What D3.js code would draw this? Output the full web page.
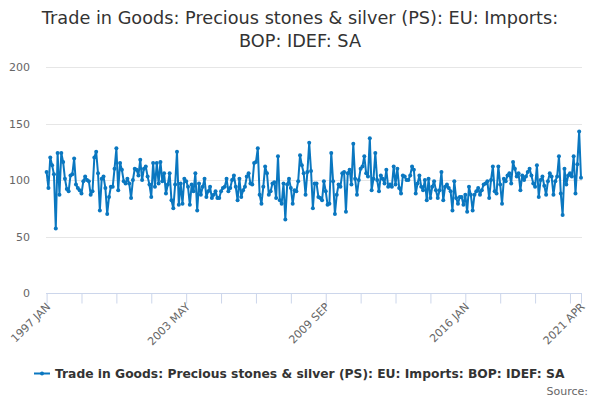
<!DOCTYPE html>
<html>
<head>
<meta charset="utf-8">
<script src="https://cdn.jsdelivr.net/npm/d3@7"></script>
<style>
    body { margin: 0; background: #fff; }
    #chart { width: 600px; height: 400px; }
</style>
</head>
<body>
<div id="chart"></div>
<script>
var titleLines = ["Trade in Goods: Precious stones & silver (PS): EU: Imports:", "BOP: IDEF: SA"];
var seriesName = "Trade in Goods: Precious stones & silver (PS): EU: Imports: BOP: IDEF: SA";
var monthNames = ["JAN", "FEB", "MAR", "APR", "MAY", "JUN", "JUL", "AUG", "SEP", "OCT", "NOV", "DEC"];

// monthly values, 1997 JAN .. 2021 APR
var values = [
    107, 93, 120, 113, 105, 57, 124, 87, 124, 116,
    101, 92, 90, 104, 105, 119, 96, 93, 91, 88,
    99, 103, 100, 99, 87, 90, 120, 125, 106, 73,
    101, 103, 93, 70, 85, 94, 94, 110, 128, 91,
    115, 109, 99, 97, 101, 97, 84, 100, 110, 109,
    104, 118, 100, 110, 112, 103, 96, 85, 115, 94,
    115, 97, 116, 99, 106, 88, 96, 106, 82, 75,
    96, 125, 78, 97, 79, 101, 99, 94, 78, 96,
    90, 106, 73, 97, 87, 94, 101, 85, 90, 94,
    84, 87, 90, 84, 84, 90, 93, 94, 101, 90,
    93, 100, 104, 94, 82, 101, 85, 91, 94, 103,
    106, 97, 96, 115, 116, 128, 87, 79, 94, 112,
    106, 87, 90, 97, 98, 84, 121, 82, 79, 97,
    65, 96, 101, 93, 79, 91, 90, 99, 122, 113,
    106, 87, 107, 133, 108, 75, 97, 97, 85, 84,
    82, 99, 90, 78, 79, 124, 99, 70, 87, 96,
    94, 106, 107, 72, 106, 109, 96, 132, 101, 87,
    100, 110, 112, 121, 106, 103, 137, 91, 101, 124,
    100, 90, 104, 101, 97, 109, 94, 96, 94, 112,
    96, 110, 93, 88, 104, 103, 100, 100, 104, 112,
    109, 88, 97, 104, 94, 91, 100, 82, 101, 84,
    94, 99, 91, 84, 91, 107, 82, 94, 96, 93,
    90, 73, 99, 84, 79, 85, 85, 78, 87, 72,
    94, 87, 73, 87, 90, 93, 87, 91, 96, 97,
    99, 84, 100, 112, 90, 88, 112, 96, 79, 101,
    99, 104, 106, 97, 116, 110, 103, 106, 91, 104,
    100, 103, 107, 110, 104, 97, 94, 113, 85, 100,
    103, 95, 87, 99, 106, 103, 87, 99, 103, 121,
    88, 69, 110, 96, 104, 106, 103, 121, 88, 114,
    143, 102
];

var yTicks = [0, 50, 100, 150, 200];
var tickStep = 19;              // a tick mark every 19 months
var labelIndex = [0, 76, 152, 228, 291];

var categories = values.map(function (v, i) {
    return (1997 + Math.floor(i / 12)) + " " + monthNames[i % 12];
});

var svg, x, y;

init();

function init() {
    svg = d3.select("#chart").append("svg")
        .attr("width", 600)
        .attr("height", 400)
        .style("font-family", "'DejaVu Sans', sans-serif");

    x = d3.scaleLinear().domain([0, values.length - 1]).range([46.6, 581]);
    y = d3.scaleLinear().domain([0, 200]).range([293, 67]);

    drawTitle();
    drawGrid();
    drawXAxis();
    drawSeries();
    drawLegend();
}

function drawTitle() {
    svg.append("g").selectAll("text")
        .data(titleLines)
        .enter().append("text")
        .attr("x", 300)
        .attr("y", function (d, i) { return 24 + i * 23; })
        .attr("text-anchor", "middle")
        .attr("font-size", "17.7px")
        .attr("fill", "#333333")
        .text(function (d) { return d; });
}

function drawGrid() {
    var g = svg.append("g");
    g.selectAll("line")
        .data(yTicks.filter(function (d) { return d > 0; }))
        .enter().append("line")
        .attr("x1", 46)
        .attr("x2", 582)
        .attr("y1", function (d) { return Math.round(y(d)) + 0.5; })
        .attr("y2", function (d) { return Math.round(y(d)) + 0.5; })
        .attr("stroke", "#e6e6e6");

    g.selectAll("text")
        .data(yTicks)
        .enter().append("text")
        .attr("x", 30)
        .attr("y", function (d) { return y(d) + 4; })
        .attr("text-anchor", "end")
        .attr("font-size", "11px")
        .attr("fill", "#666666")
        .text(function (d) { return d; });
}

function drawXAxis() {
    var tickVals = d3.range(0, values.length, tickStep);
    tickVals.push(values.length - 1);

    var axis = d3.axisBottom(x)
        .tickValues(tickVals)
        .tickSize(10)
        .tickFormat(function (d) {
            return labelIndex.indexOf(d) >= 0 ? categories[d] : "";
        });

    var g = svg.append("g")
        .attr("transform", "translate(0," + (Math.round(y(0)) + 0.5) + ")")
        .call(axis);

    g.select(".domain").attr("stroke", "#ccd6eb").attr("d", "M46,0H582");
    g.selectAll(".tick line").attr("stroke", "#ccd6eb");
    g.selectAll(".tick text")
        .attr("font-family", "'DejaVu Sans', sans-serif")
        .attr("font-size", "11px")
        .attr("fill", "#666666")
        .attr("text-anchor", "end")
        .attr("dy", null)
        .attr("y", null)
        .attr("transform", "translate(4,14) rotate(-45)");
}

function drawSeries() {
    var line = d3.line()
        .x(function (d, i) { return x(i); })
        .y(function (d) { return y(d); });

    var g = svg.append("g");
    g.append("path")
        .datum(values)
        .attr("d", line)
        .attr("fill", "none")
        .attr("stroke", "#0a77c0")
        .attr("stroke-width", 2)
        .attr("stroke-linejoin", "round");

    g.selectAll("circle")
        .data(values)
        .enter().append("circle")
        .attr("cx", function (d, i) { return x(i); })
        .attr("cy", function (d) { return y(d); })
        .attr("r", 2)
        .attr("fill", "#0a77c0");
}

function drawLegend() {
    var g = svg.append("g").attr("transform", "translate(34,373.5)");
    g.append("line")
        .attr("x1", 0).attr("x2", 16)
        .attr("y1", 0).attr("y2", 0)
        .attr("stroke", "#0a77c0")
        .attr("stroke-width", 2);
    g.append("circle")
        .attr("cx", 8).attr("cy", 0).attr("r", 2)
        .attr("fill", "#0a77c0");
    g.append("text")
        .attr("x", 21)
        .attr("y", 4)
        .attr("font-size", "12.3px")
        .attr("font-weight", "bold")
        .attr("fill", "#333333")
        .text(seriesName);

    svg.append("text")
        .attr("x", 588)
        .attr("y", 394.5)
        .attr("text-anchor", "end")
        .attr("font-size", "11px")
        .attr("fill", "#666666")
        .text("Source:");
}
</script>
</body>
</html>
